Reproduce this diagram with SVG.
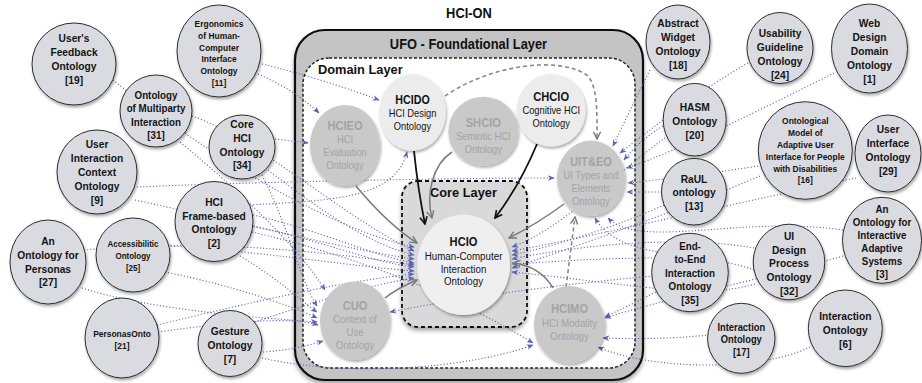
<svg xmlns="http://www.w3.org/2000/svg" width="922" height="383" viewBox="0 0 922 383">
<defs>
<style>
.ext{fill:#d9dbe0;stroke:#2e2e2e;stroke-width:1;filter:url(#sh)}
.ig{fill:#c9c9c9;filter:url(#sh)}
.il{fill:#ececec;filter:url(#sh)}
.t{font-family:"Liberation Sans",Arial,Helvetica,sans-serif;font-weight:bold;text-anchor:middle;fill:#141414}
.r{font-weight:normal}
.gt{fill:#a3a3a3}
.dot{fill:none;stroke:#5a62b4;stroke-width:1.1;stroke-dasharray:1.1 2.1;marker-end:url(#ab)}
.ga{fill:none;stroke:#7a7a7a;stroke-width:1.5;marker-end:url(#ag)}
.gd{fill:none;stroke:#888;stroke-width:1.6;stroke-dasharray:4 3;marker-end:url(#ag)}
.ka{fill:none;stroke:#111;stroke-width:1.8;marker-end:url(#ak)}
.lbl{font-family:"Liberation Sans",Arial,Helvetica,sans-serif;font-weight:bold;fill:#111}
</style>
<filter id="sh" x="-20%" y="-20%" width="150%" height="150%"><feDropShadow dx="1" dy="2" stdDeviation="1.4" flood-color="#000" flood-opacity="0.35"/></filter>
<filter id="shb" x="-10%" y="-10%" width="120%" height="120%"><feDropShadow dx="0" dy="3" stdDeviation="2" flood-color="#000" flood-opacity="0.35"/></filter>
<marker id="ab" viewBox="0 0 10 8" refX="9" refY="4" markerWidth="7" markerHeight="5.6" orient="auto" markerUnits="userSpaceOnUse"><path d="M0,0 L10,4 L0,8 L3,4 z" fill="#5a62b4"/></marker>
<marker id="ag" viewBox="0 0 10 10" refX="9" refY="5" markerWidth="9" markerHeight="9" orient="auto" markerUnits="userSpaceOnUse"><path d="M1,1 L9,5 L1,9" fill="none" stroke="#7a7a7a" stroke-width="1.6"/></marker>
<marker id="ak" viewBox="0 0 10 10" refX="9" refY="5" markerWidth="9" markerHeight="9" orient="auto" markerUnits="userSpaceOnUse"><path d="M1,1 L9,5 L1,9" fill="none" stroke="#111" stroke-width="1.8"/></marker>
</defs>
<rect width="922" height="383" fill="#fff"/>

<text class="lbl" text-anchor="middle" font-size="14" transform="translate(469 0) scale(0.92 1)" x="0" y="18.5">HCI-ON</text>

<g id="ufo">
<rect x="295" y="30" width="348" height="350" rx="30" fill="#c4c4c4" stroke="#111" stroke-width="2.2" filter="url(#shb)"/>
<text class="lbl" text-anchor="middle" font-size="14" transform="translate(468.5 0) scale(0.92 1)" x="0" y="49.5">UFO - Foundational Layer</text>
</g>
<g id="domain">
<rect x="303" y="58" width="332" height="310" rx="26" fill="#fff" stroke="#222" stroke-width="1.5" stroke-dasharray="3 2"/>
<text class="lbl" font-size="12.8" x="318" y="74">Domain Layer</text>
</g>
<g id="core">
<rect x="402" y="181" width="125" height="146" rx="16" fill="#d9d9d9" stroke="#111" stroke-width="1.8" stroke-dasharray="4 3" filter="url(#shb)"/>
<text class="lbl" font-size="12.8" x="430" y="197">Core Layer</text>
</g>

<g id="connectors">
<path class="dot" d="M113,80 C200,150 330,230 414,247"/>
<path class="dot" d="M262,64 Q320,78 379,100"/>
<path class="dot" d="M258,74 Q295,90 319,113"/>
<path class="dot" d="M275,139 L308,143"/>
<path class="dot" d="M192,116 C260,140 340,215 414,251"/>
<path class="dot" d="M180,142 C250,200 300,250 325,290"/>
<path class="dot" d="M268,170 C320,210 370,245 414,255"/>
<path class="dot" d="M262,175 C290,230 300,280 317,306"/>
<path class="dot" d="M137,187 C250,182 450,178 554,178"/>
<path class="dot" d="M135,200 C250,225 350,250 414,259"/>
<path class="dot" d="M250,205 C330,200 395,200 407,152"/>
<path class="dot" d="M253,215 C320,230 370,255 414,263"/>
<path class="dot" d="M253,226 C320,240 370,262 414,267"/>
<path class="dot" d="M240,256 C280,280 300,300 317,312"/>
<path class="dot" d="M252,232 C380,262 470,305 533,343"/>
<path class="dot" d="M168,246 C250,250 340,265 414,271"/>
<path class="dot" d="M165,272 C230,285 290,305 317,318"/>
<path class="dot" d="M84,250 C200,238 330,252 414,265"/>
<path class="dot" d="M82,288 C150,310 260,318 317,322"/>
<path class="dot" d="M157,325 C260,300 350,280 414,274"/>
<path class="dot" d="M158,332 C230,322 290,316 318,325"/>
<path class="dot" d="M262,358 C350,378 470,368 533,345"/>
<path class="dot" d="M263,352 Q295,350 323,341"/>
<path class="dot" d="M255,322 C320,300 370,285 414,278"/>
<path class="dot" d="M650,70 Q630,110 613,146"/>
<path class="dot" d="M748,63 C700,90 650,130 620,153"/>
<path class="dot" d="M834,73 C760,110 680,150 627,168"/>
<path class="dot" d="M663,126 Q640,140 624,160"/>
<path class="dot" d="M665,138 C620,170 560,230 512,247"/>
<path class="dot" d="M758,166 C720,172 660,180 628,183"/>
<path class="dot" d="M856,178 C750,200 600,235 512,251"/>
<path class="dot" d="M662,192 L627,192"/>
<path class="dot" d="M664,205 C620,225 560,245 512,255"/>
<path class="dot" d="M843,230 C740,215 640,250 608,218"/>
<path class="dot" d="M843,256 C760,280 660,300 605,318"/>
<path class="dot" d="M754,248 C680,235 580,245 512,259"/>
<path class="dot" d="M754,270 C700,250 620,262 595,218"/>
<path class="dot" d="M652,258 C600,258 550,262 512,264"/>
<path class="dot" d="M656,292 Q630,305 605,317"/>
<path class="dot" d="M653,276 C550,285 450,300 390,312"/>
<path class="dot" d="M709,335 Q660,340 603,338"/>
<path class="dot" d="M810,347 C760,372 650,370 598,347"/>
<path class="dot" d="M760,176 C680,210 580,245 512,268"/>
<path class="dot" d="M755,284 C700,300 640,285 512,272"/>
<path class="ka" d="M414,151 Q418,190 425,224"/>
<path class="ka" d="M537,144 Q520,185 495,218"/>
<path class="ga" d="M452,152 C432,165 426,195 432,218"/>
<path class="ga" d="M356,186 C380,215 400,232 417,243"/>
<path class="ga" d="M564,204 C545,218 525,230 509,238"/>
<path class="ga" d="M385,298 C395,290 405,285 417,280"/>
<path class="ga" d="M553,288 Q540,266 513,263"/>
<path class="gd" d="M445,96 C490,65 560,55 588,76 C598,88 597,115 597,139"/>
<path class="gd" d="M566,287 L575,217"/>
</g>

<g id="HCIEO"><ellipse class="ig" cx="345" cy="145.5" rx="35" ry="40.5"/>
<text class="t gt" font-size="10.5" transform="translate(345 0) scale(0.89 1)"><tspan x="0" y="130.5" font-size="12.5">HCIEO</tspan><tspan class="r" x="0" y="143.3">HCI</tspan><tspan class="r" x="0" y="156.4">Evaluation</tspan><tspan class="r" x="0" y="169.5">Ontology</tspan></text></g>
<g id="HCIDO"><ellipse class="il" cx="412.5" cy="112.3" rx="33.2" ry="38.3"/>
<text class="t" font-size="10.5" transform="translate(412.5 0) scale(0.89 1)"><tspan x="0" y="104.3" font-size="12">HCIDO</tspan><tspan class="r" x="0" y="117.5">HCI Design</tspan><tspan class="r" x="0" y="130.5">Ontology</tspan></text></g>
<g id="SHCIO"><ellipse class="ig" cx="483.3" cy="131.2" rx="35" ry="34.5"/>
<text class="t gt" font-size="10.5" transform="translate(483.3 0) scale(0.89 1)"><tspan x="0" y="127.3" font-size="12.5">SHCIO</tspan><tspan class="r" x="0" y="140.5">Semiotic HCI</tspan><tspan class="r" x="0" y="153.5">Ontology</tspan></text></g>
<g id="CHCIO"><ellipse class="il" cx="551.2" cy="110.3" rx="34.5" ry="36.3"/>
<text class="t" font-size="10.5" transform="translate(551.2 0) scale(0.89 1)"><tspan x="0" y="100.7" font-size="12.5">CHCIO</tspan><tspan class="r" x="0" y="113.7">Cognitive HCI</tspan><tspan class="r" x="0" y="127">Ontology</tspan></text></g>
<g id="UITEO"><ellipse class="ig" cx="591" cy="178.3" rx="34" ry="37.7"/>
<text class="t gt" font-size="10.5" transform="translate(591 0) scale(0.89 1)"><tspan x="0" y="166" font-size="12.5">UIT&amp;EO</tspan><tspan class="r" x="0" y="179.2">UI Types and</tspan><tspan class="r" x="0" y="192">Elements</tspan><tspan class="r" x="0" y="205">Ontology</tspan></text></g>
<g id="CUO"><ellipse class="ig" cx="355" cy="320.8" rx="35" ry="39.2"/>
<text class="t gt" font-size="10.8" transform="translate(355 0) scale(0.89 1)"><tspan x="0" y="310" font-size="12.5">CUO</tspan><tspan class="r" x="0" y="323.2">Context of</tspan><tspan class="r" x="0" y="336.2">Use</tspan><tspan class="r" x="0" y="349.3">Ontology</tspan></text></g>
<g id="HCIMO"><ellipse class="ig" cx="569.5" cy="324.7" rx="35.5" ry="38.7"/>
<text class="t gt" font-size="10.8" transform="translate(569.5 0) scale(0.89 1)"><tspan x="0" y="313.3" font-size="12.5">HCIMO</tspan><tspan class="r" x="0" y="326.8">HCI Modality</tspan><tspan class="r" x="0" y="340">Ontology</tspan></text></g>
<g id="HCIO"><ellipse cx="463.5" cy="264.7" rx="46.5" ry="50.3" fill="#efefef" filter="url(#sh)"/>
<text class="t" font-size="11" transform="translate(463.5 0) scale(0.89 1)"><tspan x="0" y="246.5" font-size="12.5">HCIO</tspan><tspan class="r" x="0" y="260">Human-Computer</tspan><tspan class="r" x="0" y="272.8">Interaction</tspan><tspan class="r" x="0" y="285.5">Ontology</tspan></text></g>

<g id="n19"><ellipse class="ext" cx="74" cy="64" rx="42" ry="41"/>
<text class="t" font-size="11.5" transform="translate(74 0) scale(0.89 1)"><tspan x="0" y="42">User's</tspan><tspan x="0" y="56">Feedback</tspan><tspan x="0" y="70">Ontology</tspan><tspan x="0" y="84">[19]</tspan></text></g>
<g id="n11"><ellipse class="ext" cx="219" cy="51" rx="42" ry="46"/>
<text class="t" font-size="9.5" transform="translate(219 0) scale(0.89 1)"><tspan x="0" y="27">Ergonomics</tspan><tspan x="0" y="38.8">of Human-</tspan><tspan x="0" y="50.6">Computer</tspan><tspan x="0" y="62.4">Interface</tspan><tspan x="0" y="74.2">Ontology</tspan><tspan x="0" y="86">[11]</tspan></text></g>
<g id="n31"><ellipse class="ext" cx="156" cy="111" rx="36" ry="36"/>
<text class="t" font-size="11" transform="translate(156 0) scale(0.89 1)"><tspan x="0" y="99">Ontology</tspan><tspan x="0" y="112.5">of Multiparty</tspan><tspan x="0" y="126">Interaction</tspan><tspan x="0" y="139.5">[31]</tspan></text></g>
<g id="n34"><ellipse class="ext" cx="242" cy="147" rx="33" ry="32"/>
<text class="t" font-size="11.5" transform="translate(242 0) scale(0.89 1)"><tspan x="0" y="128.5">Core</tspan><tspan x="0" y="142">HCI</tspan><tspan x="0" y="155.7">Ontology</tspan><tspan x="0" y="169.4">[34]</tspan></text></g>
<g id="n9"><ellipse class="ext" cx="97" cy="172" rx="40" ry="42"/>
<text class="t" font-size="11.5" transform="translate(97 0) scale(0.89 1)"><tspan x="0" y="148.5">User</tspan><tspan x="0" y="162.5">Interaction</tspan><tspan x="0" y="176.5">Context</tspan><tspan x="0" y="190.5">Ontology</tspan><tspan x="0" y="204.5">[9]</tspan></text></g>
<g id="n2"><ellipse class="ext" cx="214" cy="221.5" rx="39" ry="40"/>
<text class="t" font-size="11.5" transform="translate(214 0) scale(0.89 1)"><tspan x="0" y="206">HCI</tspan><tspan x="0" y="219.7">Frame-based</tspan><tspan x="0" y="233.4">Ontology</tspan><tspan x="0" y="247">[2]</tspan></text></g>
<g id="n27"><ellipse class="ext" cx="48" cy="262" rx="38" ry="42"/>
<text class="t" font-size="11.5" transform="translate(48 0) scale(0.89 1)"><tspan x="0" y="245">An</tspan><tspan x="0" y="258.8">Ontology for</tspan><tspan x="0" y="272.6">Personas</tspan><tspan x="0" y="286.4">[27]</tspan></text></g>
<g id="n25"><ellipse class="ext" cx="133" cy="255" rx="37" ry="37"/>
<text class="t" font-size="9" transform="translate(133 0) scale(0.89 1)"><tspan x="0" y="246.7">Accessibilitic</tspan><tspan x="0" y="258.7">Ontology</tspan><tspan x="0" y="270.7">[25]</tspan></text></g>
<g id="n21"><ellipse class="ext" cx="122" cy="338" rx="37" ry="40"/>
<text class="t" font-size="9.5" transform="translate(122 0) scale(0.89 1)"><tspan x="0" y="337.3">PersonasOnto</tspan><tspan x="0" y="349.3">[21]</tspan></text></g>
<g id="n7"><ellipse class="ext" cx="230" cy="343.5" rx="32" ry="33"/>
<text class="t" font-size="11.5" transform="translate(230 0) scale(0.89 1)"><tspan x="0" y="335">Gesture</tspan><tspan x="0" y="349">Ontology</tspan><tspan x="0" y="363">[7]</tspan></text></g>
<g id="n18"><ellipse class="ext" cx="678" cy="42" rx="32" ry="37"/>
<text class="t" font-size="11.5" transform="translate(678 0) scale(0.89 1)"><tspan x="0" y="27.3">Abstract</tspan><tspan x="0" y="41.2">Widget</tspan><tspan x="0" y="55.1">Ontology</tspan><tspan x="0" y="69">[18]</tspan></text></g>
<g id="n24"><ellipse class="ext" cx="780" cy="48" rx="33" ry="35.5"/>
<text class="t" font-size="11.5" transform="translate(780 0) scale(0.89 1)"><tspan x="0" y="37">Usability</tspan><tspan x="0" y="51">Guideline</tspan><tspan x="0" y="65">Ontology</tspan><tspan x="0" y="79">[24]</tspan></text></g>
<g id="n1"><ellipse class="ext" cx="869.5" cy="48.5" rx="38" ry="44.5"/>
<text class="t" font-size="11.5" transform="translate(869.5 0) scale(0.89 1)"><tspan x="0" y="27.3">Web</tspan><tspan x="0" y="41.3">Design</tspan><tspan x="0" y="55.3">Domain</tspan><tspan x="0" y="69.3">Ontology</tspan><tspan x="0" y="83.3">[1]</tspan></text></g>
<g id="n20"><ellipse class="ext" cx="694.7" cy="119.7" rx="31.5" ry="36.3"/>
<text class="t" font-size="11.5" transform="translate(694.7 0) scale(0.89 1)"><tspan x="0" y="111">HASM</tspan><tspan x="0" y="125">Ontology</tspan><tspan x="0" y="139">[20]</tspan></text></g>
<g id="n16"><ellipse class="ext" cx="805.3" cy="150.5" rx="47" ry="48.8"/>
<text class="t" font-size="9.5" transform="translate(805.3 0) scale(0.89 1)"><tspan x="0" y="124">Ontological</tspan><tspan x="0" y="135.9">Model of</tspan><tspan x="0" y="147.8">Adaptive User</tspan><tspan x="0" y="159.7">Interface for People</tspan><tspan x="0" y="171.6">with Disabilities</tspan><tspan x="0" y="183.5">[16]</tspan></text></g>
<g id="n29"><ellipse class="ext" cx="888" cy="153.5" rx="33" ry="38.5"/>
<text class="t" font-size="11.5" transform="translate(888 0) scale(0.89 1)"><tspan x="0" y="133.3">User</tspan><tspan x="0" y="147.3">Interface</tspan><tspan x="0" y="161.3">Ontology</tspan><tspan x="0" y="175.3">[29]</tspan></text></g>
<g id="n13"><ellipse class="ext" cx="694" cy="191.7" rx="32.5" ry="33.3"/>
<text class="t" font-size="11.5" transform="translate(694 0) scale(0.89 1)"><tspan x="0" y="182.7">RaUL</tspan><tspan x="0" y="196.5">ontology</tspan><tspan x="0" y="210.5">[13]</tspan></text></g>
<g id="n35"><ellipse class="ext" cx="690" cy="272.5" rx="38.3" ry="39.2"/>
<text class="t" font-size="11" transform="translate(690 0) scale(0.89 1)"><tspan x="0" y="250">End-</tspan><tspan x="0" y="263.4">to-End</tspan><tspan x="0" y="276.8">Interaction</tspan><tspan x="0" y="290.2">Ontology</tspan><tspan x="0" y="303.6">[35]</tspan></text></g>
<g id="n32"><ellipse class="ext" cx="789" cy="262" rx="35.8" ry="37.8"/>
<text class="t" font-size="11.5" transform="translate(789 0) scale(0.89 1)"><tspan x="0" y="240">UI</tspan><tspan x="0" y="253.7">Design</tspan><tspan x="0" y="267.4">Process</tspan><tspan x="0" y="281.1">Ontology</tspan><tspan x="0" y="294.8">[32]</tspan></text></g>
<g id="n3"><ellipse class="ext" cx="882" cy="240.3" rx="39.5" ry="43"/>
<text class="t" font-size="11" transform="translate(882 0) scale(0.89 1)"><tspan x="0" y="212.7">An</tspan><tspan x="0" y="225.8">Ontology for</tspan><tspan x="0" y="238.9">Interactive</tspan><tspan x="0" y="252">Adaptive</tspan><tspan x="0" y="265.1">Systems</tspan><tspan x="0" y="278.2">[3]</tspan></text></g>
<g id="n17"><ellipse class="ext" cx="741.3" cy="338.3" rx="33.7" ry="35"/>
<text class="t" font-size="10.5" transform="translate(741.3 0) scale(0.89 1)"><tspan x="0" y="330.7">Interaction</tspan><tspan x="0" y="343.4">Ontology</tspan><tspan x="0" y="356.1">[17]</tspan></text></g>
<g id="n6"><ellipse class="ext" cx="845.3" cy="328.3" rx="37" ry="38.3"/>
<text class="t" font-size="11.5" transform="translate(845.3 0) scale(0.89 1)"><tspan x="0" y="320.5">Interaction</tspan><tspan x="0" y="334.5">Ontology</tspan><tspan x="0" y="348.5">[6]</tspan></text></g>
</svg>
